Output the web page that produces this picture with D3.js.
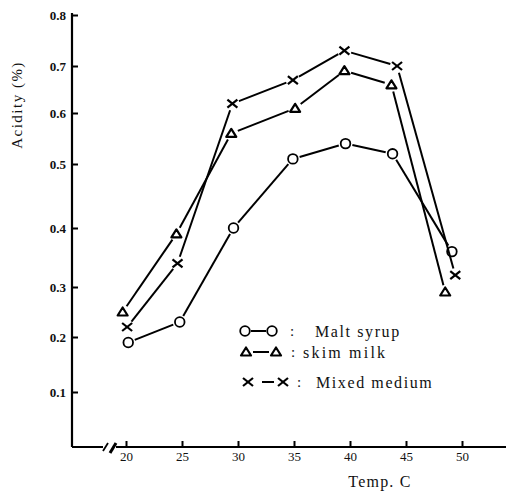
<!DOCTYPE html>
<html><head><meta charset="utf-8">
<script src="https://cdn.jsdelivr.net/npm/d3@7"></script>
<style>body{margin:0;background:#fff}svg{display:block}</style>
</head><body>
<script>
// ---- data ----
const yTicks = [0.1,0.2,0.3,0.4,0.5,0.6,0.7,0.8];
const xTicks = [20,25,30,35,40,45,50];
const maltTemps  = [20.2,24.8,29.6,34.9,39.6,43.8,49.1];
const maltSyrup  = [0.19,0.23,0.40,0.51,0.54,0.52,0.36];
const skimTemps  = [19.7,24.5,29.4,35.1,39.5,43.7,48.5];
const skimMilk   = [0.25,0.39,0.56,0.61,0.69,0.66,0.29];
const mixedTemps = [20.1,24.6,29.5,34.9,39.5,44.2,49.4];
const mixedMedium= [0.22,0.34,0.62,0.67,0.73,0.70,0.32];
const legendLabels = ["Malt syrup","skim milk","Mixed medium"];

const W=506,H=491;
const svg=d3.select("body").append("svg").attr("width",W).attr("height",H);
const serif="'Liberation Serif','Times New Roman',serif";

// scanned axis is slightly uneven: polylinear scale through the printed tick stops
const x=d3.scaleLinear().domain([20,50]).range([126,462]);
const y=d3.scaleLinear().domain([0,0.1,0.2,0.3,0.4,0.5,0.6,0.7,0.8])
  .range([447,392,337,287,228,164,113,66,15]);
const axX=72, axY=447;

// y axis
const gy=svg.append("g").attr("transform",`translate(${axX},0)`)
  .call(d3.axisLeft(y).tickValues(yTicks).tickSize(-6).tickPadding(6).tickFormat(d3.format(".1f")));
gy.select(".domain").remove();
gy.selectAll(".tick line").attr("stroke","#000").attr("stroke-width",2);
gy.selectAll(".tick text").attr("font-family",serif).attr("font-size",13).attr("font-weight","bold").attr("fill","#111");
svg.append("line").attr("x1",axX).attr("x2",axX).attr("y1",y(0.8)-2).attr("y2",axY)
  .attr("stroke","#000").attr("stroke-width",2.2);

// x axis with break
const gx=svg.append("g").attr("transform",`translate(0,${axY})`)
  .call(d3.axisBottom(x).tickValues(xTicks).tickSize(-6).tickPadding(5));
gx.select(".domain").remove();
gx.selectAll(".tick line").attr("stroke","#000").attr("stroke-width",2);
gx.selectAll(".tick text").attr("font-family",serif).attr("font-size",13).attr("fill","#111");
svg.append("line").attr("x1",axX).attr("x2",103).attr("y1",axY).attr("y2",axY).attr("stroke","#000").attr("stroke-width",2);
svg.append("line").attr("x1",116).attr("x2",W).attr("y1",axY).attr("y2",axY).attr("stroke","#000").attr("stroke-width",2);
svg.append("line").attr("x1",103).attr("x2",108).attr("y1",axY+4).attr("y2",axY-4).attr("stroke","#000").attr("stroke-width",1.8);
svg.append("line").attr("x1",110).attr("x2",116).attr("y1",axY+6).attr("y2",axY-4).attr("stroke","#000").attr("stroke-width",3);

// axis titles
svg.append("text").attr("x",380).attr("y",487).attr("text-anchor","middle")
  .attr("font-family",serif).attr("font-size",16).attr("letter-spacing",1.2).attr("fill","#111").text("Temp. C");
svg.append("text").attr("transform","translate(22,105) rotate(-90)").attr("text-anchor","middle")
  .attr("font-family",serif).attr("font-size",15).attr("letter-spacing",1.5).attr("fill","#111").text("Acidity (%)");

// marker drawing
function drawMarker(g,type,cx,cy){
  if(type==="circle"){
    g.append("circle").attr("cx",cx).attr("cy",cy).attr("r",4.8).attr("fill","#fff").attr("stroke","#000").attr("stroke-width",1.8);
  } else if(type==="tri"){
    const p=d3.path(); p.moveTo(cx-5,cy+3.5); p.lineTo(cx,cy-4.5); p.lineTo(cx+5,cy+3.5); p.closePath();
    g.append("path").attr("d",p.toString()).attr("fill","#fff").attr("stroke","#000").attr("stroke-width",2.2).attr("stroke-linejoin","round");
  } else {
    g.append("line").attr("x1",cx-5).attr("y1",cy-4).attr("x2",cx+5).attr("y2",cy+4).attr("stroke","#000").attr("stroke-width",2.2);
    g.append("line").attr("x1",cx-5).attr("y1",cy+4).attr("x2",cx+5).attr("y2",cy-4).attr("stroke","#000").attr("stroke-width",2.2);
  }
}
function drawSeries(xs,ys,type){
  const g=svg.append("g");
  const pts=xs.map((t,i)=>[x(t),y(ys[i])]);
  const gap=7;
  for(let i=0;i<pts.length-1;i++){
    const [x1,y1]=pts[i],[x2,y2]=pts[i+1];
    const dx=x2-x1,dy=y2-y1,L=Math.hypot(dx,dy),ux=dx/L,uy=dy/L;
    g.append("line").attr("x1",x1+ux*gap).attr("y1",y1+uy*gap).attr("x2",x2-ux*gap).attr("y2",y2-uy*gap)
      .attr("stroke","#000").attr("stroke-width",2);
  }
  pts.forEach(p=>drawMarker(g,type,p[0],p[1]));
}
drawSeries(maltTemps,maltSyrup,"circle");
drawSeries(skimTemps,skimMilk,"tri");
drawSeries(mixedTemps,mixedMedium,"x");

// legend
const lg=svg.append("g");
const rows=[{t:"circle",y:331,a:245,b:272,l1:251,l2:266,c:290,tx:315},
            {t:"tri",y:352,a:246,b:276,l1:253,l2:269,c:291,tx:303},
            {t:"x",y:382,a:248,b:283,l1:262,l2:274,c:297,tx:316}];
rows.forEach((r,i)=>{
  drawMarker(lg,r.t,r.a,r.y);
  drawMarker(lg,r.t,r.b,r.y);
  lg.append("line").attr("x1",r.l1).attr("x2",r.l2).attr("y1",r.y).attr("y2",r.y).attr("stroke","#000").attr("stroke-width",2);
  lg.append("text").attr("x",r.c).attr("y",r.y).attr("dy","0.35em").attr("font-family",serif).attr("font-size",15).attr("fill","#111").text(":");
  lg.append("text").attr("x",r.tx).attr("y",r.y).attr("dy","0.35em").attr("font-family",serif).attr("font-size",16)
    .attr("letter-spacing",i===1?2.2:1.6).attr("fill","#111").text(legendLabels[i]);
});
</script>
</body></html>
